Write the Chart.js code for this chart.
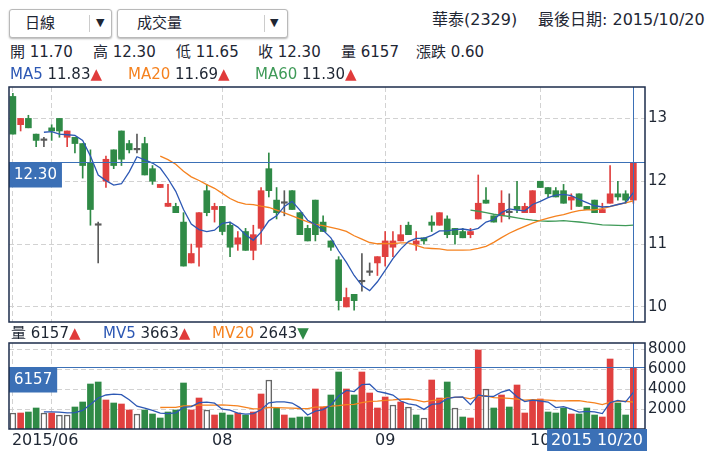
<!DOCTYPE html>
<html>
<head>
<meta charset="utf-8">
<script src="https://cdn.jsdelivr.net/npm/chart.js@4.4.1/dist/chart.umd.min.js"></script>
<style>
  body { margin: 0; background: #fff; font-family: "DejaVu Sans", "Noto Sans CJK TC", sans-serif; color: #1e2633; }
  #wrap { position: relative; width: 712px; height: 457px; overflow: hidden; }
  canvas { position: absolute; left: 0; }
  .t { position: absolute; white-space: nowrap; font-size: 15px; line-height: 18px; }
  .sel { position: absolute; top: 9px; height: 27px; border: 1px solid #b9b9b9; border-radius: 3px;
         box-shadow: 0 1px 2px rgba(0,0,0,.3); background: #fff; }
  .sel span { position: absolute; top: 4px; font-size: 15px; line-height: 18px; }
  .sel i { position: absolute; top: 5px; width: 1px; height: 17px; background: #ccc; }
  .sel b { position: absolute; top: 6px; font-size: 11px; line-height: 14px; font-weight: normal; }
  .up { color: #e03b3b; }
  .dn { color: #2f8a46; }
</style>
</head>
<body>
<div id="wrap">
  <canvas id="priceChart" width="712" height="246" style="top:80px"></canvas>
  <canvas id="volumeChart" width="712" height="121" style="top:336px"></canvas>

  <div class="sel" style="left:9px;width:101px"><span style="left:15px">日線</span><i style="left:79px"></i><b style="left:86px">▼</b></div>
  <div class="sel" style="left:117px;width:169px"><span style="left:19px">成交量</span><i style="left:146px"></i><b style="left:152px">▼</b></div>
  <div class="t" style="left:432px;top:11px;font-size:16px">華泰(2329)</div>
  <div class="t" style="left:538px;top:11px;font-size:16px">最後日期: 2015/10/20</div>

  <div class="t" style="left:10px;top:43px">開 11.70</div>
  <div class="t" style="left:93px;top:43px">高 12.30</div>
  <div class="t" style="left:176px;top:43px">低 11.65</div>
  <div class="t" style="left:258px;top:43px">收 12.30</div>
  <div class="t" style="left:341px;top:43px">量 6157</div>
  <div class="t" style="left:416px;top:43px">漲跌 0.60</div>

  <div class="t" style="left:10px;top:65px"><span style="color:#2d58b4">MA5</span> 11.83<span class="up">▲</span></div>
  <div class="t" style="left:128px;top:65px"><span style="color:#f5821f">MA20</span> 11.69<span class="up">▲</span></div>
  <div class="t" style="left:255px;top:65px"><span style="color:#3f9a58">MA60</span> 11.30<span class="up">▲</span></div>

  <div class="t" style="left:11px;top:324px">量 6157<span class="up">▲</span></div>
  <div class="t" style="left:103px;top:324px"><span style="color:#2d58b4">MV5</span> 3663<span class="up">▲</span></div>
  <div class="t" style="left:212px;top:324px"><span style="color:#f5821f">MV20</span> 2643<span class="dn">▼</span></div>
</div>
<script>
// trading days shown, per month (2015)
const juneDays = [24, 25, 26, 29, 30];
const julyDays = [1, 2, 3, 6, 7, 8, 9, 13, 14, 15, 16, 17, 20, 21, 22, 23, 24, 27, 28, 29, 30, 31];
const augDays = [3, 4, 5, 6, 7, 10, 11, 12, 13, 14, 17, 18, 19, 20, 21, 24, 25, 26, 27, 28, 31];
const sepDays = [1, 2, 3, 4, 7, 8, 9, 10, 11, 14, 15, 16, 17, 18, 21, 22, 23, 24, 25, 30];
const octDays = [1, 2, 5, 6, 7, 8, 12, 13, 14, 15, 16, 19, 20];
const monthNames = ['06', '07', '08', '09', '10'];
const monthLabels = ['2015/06', '', '08', '09', '10'];

const open = [13.35, 12.90, 13.00, 12.75, 12.65, 12.85, 13.00, 12.70, 12.70, 12.60,
  12.30, 11.30, 12.00, 12.50, 12.80, 12.60, 12.50, 12.60, 12.20, 11.90,
  11.60, 11.60, 11.35, 10.70, 10.95, 11.85, 11.55, 11.60, 11.30, 11.00,
  11.20, 10.90, 11.25, 12.20, 11.70, 11.65, 11.85, 11.50, 11.25, 11.70,
  11.35, 11.05, 10.75, 10.00, 10.20, 10.40, 10.55, 10.70, 10.80, 10.95,
  11.05, 11.30, 11.00, 11.10, 11.35, 11.30, 11.40, 11.25, 11.20, 11.15,
  11.40, 11.70, 11.45, 11.45, 11.50, 11.60, 11.50, 11.50, 12.00, 11.90,
  11.85, 11.85, 11.70, 11.80, 11.60, 11.70, 11.50, 11.65, 11.80, 11.80,
  11.70];
const high = [13.40, 13.00, 13.05, 12.75, 12.70, 12.90, 13.00, 12.80, 12.70, 12.60,
  12.50, 11.35, 12.40, 12.50, 12.80, 12.65, 12.75, 12.70, 12.25, 11.95,
  11.95, 11.65, 11.50, 11.00, 11.50, 11.95, 11.65, 11.60, 11.35, 11.20,
  11.25, 11.30, 11.90, 12.45, 11.90, 11.85, 11.85, 11.50, 11.30, 11.70,
  11.45, 11.05, 10.80, 10.30, 10.20, 10.85, 10.70, 10.80, 11.20, 11.20,
  11.30, 11.35, 11.20, 11.10, 11.45, 11.50, 11.45, 11.25, 11.25, 11.25,
  12.10, 11.90, 11.45, 11.85, 11.80, 12.00, 11.65, 11.85, 12.00, 11.90,
  11.90, 11.95, 11.80, 11.80, 11.60, 11.70, 11.65, 12.25, 12.00, 11.85,
  12.30];
const low = [12.75, 12.80, 12.85, 12.55, 12.55, 12.65, 12.70, 12.55, 12.45, 12.05,
  11.30, 10.70, 11.90, 12.20, 12.25, 12.45, 12.45, 12.10, 11.95, 11.90,
  11.60, 11.50, 10.65, 10.70, 10.65, 11.45, 11.35, 11.15, 10.80, 10.90,
  10.90, 10.75, 11.00, 11.75, 11.40, 11.45, 11.55, 11.15, 11.05, 11.05,
  11.20, 10.90, 9.95, 10.00, 9.95, 10.25, 10.50, 10.50, 10.65, 10.80,
  11.05, 11.15, 10.90, 11.00, 11.20, 11.30, 11.10, 11.00, 11.10, 11.10,
  11.40, 11.65, 11.35, 11.35, 11.40, 11.50, 11.50, 11.50, 11.90, 11.75,
  11.75, 11.65, 11.55, 11.60, 11.55, 11.50, 11.50, 11.65, 11.70, 11.65,
  11.65];
const close = [12.75, 13.00, 12.85, 12.65, 12.65, 12.80, 12.80, 12.80, 12.60, 12.25,
  11.55, 11.30, 12.35, 12.25, 12.35, 12.50, 12.50, 12.10, 12.00, 11.95,
  11.65, 11.50, 10.65, 10.85, 11.50, 11.50, 11.60, 11.20, 10.95, 11.10,
  10.90, 11.15, 11.85, 11.85, 11.50, 11.65, 11.55, 11.15, 11.05, 11.15,
  11.20, 10.95, 10.10, 10.15, 10.10, 10.40, 10.55, 10.80, 11.05, 11.05,
  11.15, 11.15, 11.05, 11.05, 11.30, 11.50, 11.15, 11.15, 11.10, 11.20,
  11.65, 11.65, 11.35, 11.65, 11.50, 11.55, 11.60, 11.85, 11.90, 11.80,
  11.75, 11.65, 11.75, 11.60, 11.55, 11.50, 11.55, 11.80, 11.75, 11.70,
  12.30];
const prevClose = 12.75; // close of the day before the first candle
const volume = [1600, 1600, 1700, 2100, 1600, 1600, 1400, 1400, 2200, 2700,
  4500, 4700, 2900, 2600, 2500, 1900, 1500, 1900, 1500, 1100,
  1700, 1900, 4600, 1900, 3100, 1900, 1400, 1600, 1400, 1600,
  1400, 1700, 3500, 4900, 2100, 1400, 1100, 1200, 1200, 4000,
  2200, 3400, 5700, 4000, 3400, 5700, 3600, 2100, 3200, 2400,
  2700, 2200, 1400, 1100, 4900, 3100, 4700, 2100, 1200, 1100,
  7900, 4000, 2100, 3400, 2200, 4400, 1600, 2800, 3000, 1700,
  1600, 2100, 1500, 1500, 2100, 1400, 1200, 7000, 2600, 1400,
  6157];
const priceTicks = [10, 11, 12, 13];
const volumeTicks = [2000, 4000, 6000, 8000];

const RED = '#e0403f', GREEN = '#2f8a46', GRAY = '#5a5a5a';
const BLUE = '#2d58b4', ORANGE = '#f5821f', MA60C = '#3f9a58';
const GRID = '#d2d2d2', FRAME = '#1d2d4b', TAG = '#3b70b6', TEXT = '#1e2633';

const dates = [];
const monthStarts = [];
[juneDays, julyDays, augDays, sepDays, octDays].forEach((days, m) => {
  monthStarts.push(dates.length);
  days.forEach(d => dates.push('2015/' + monthNames[m] + '/' + String(d).padStart(2, '0')));
});
const labels = dates.concat(['']); // one empty slot after the last day
const lastIndex = close.length - 1;

function movingAverage(values, n) {
  return values.map((v, i) => {
    if (i < n - 1) return null;
    let s = 0;
    for (let k = i - n + 1; k <= i; k++) s += values[k];
    return s / n;
  });
}

const candleColor = close.map((c, i) => c > open[i] ? RED : c < open[i] ? GREEN : GRAY);
const volumeDir = close.map((c, i) => {
  const p = i === 0 ? prevClose : close[i - 1];
  return c > p ? 1 : c < p ? -1 : 0;
});

Chart.defaults.font.family = '"DejaVu Sans", sans-serif';
Chart.defaults.color = TEXT;

const framePlugin = {
  id: 'frame',
  afterDraw(chart) {
    const { ctx, chartArea: a } = chart;
    ctx.save();
    ctx.strokeStyle = FRAME;
    ctx.lineWidth = 1.5;
    ctx.strokeRect(a.left, a.top, a.right - a.left, a.bottom - a.top);
    ctx.restore();
  }
};

function cursorPlugin(value, text) {
  return {
    id: 'cursor',
    afterDatasetsDraw(chart) {
      const { ctx, chartArea: a, scales: { x, y } } = chart;
      const py = Math.round(y.getPixelForValue(value)) + 0.5;
      const px = Math.round(x.getPixelForValue(lastIndex)) + 0.5;
      ctx.save();
      ctx.strokeStyle = TAG;
      ctx.lineWidth = 1;
      ctx.beginPath();
      ctx.moveTo(a.left, py); ctx.lineTo(a.right, py);
      ctx.moveTo(px, a.top); ctx.lineTo(px, a.bottom);
      ctx.stroke();
      ctx.font = '15px "DejaVu Sans"';
      const w = ctx.measureText(text).width + 10;
      ctx.fillStyle = TAG;
      ctx.fillRect(a.left, py, w, 25);
      ctx.fillStyle = '#fff';
      ctx.textBaseline = 'middle';
      ctx.fillText(text, a.left + 5, py + 13);
      ctx.restore();
    }
  };
}

const dateLabelPlugin = {
  id: 'dateLabels',
  afterDraw(chart) {
    const { ctx, chartArea: a, scales: { x } } = chart;
    ctx.save();
    ctx.font = '16px "DejaVu Sans"';
    ctx.textBaseline = 'middle';
    ctx.fillStyle = TEXT;
    monthStarts.forEach((idx, k) => {
      if (!monthLabels[k]) return;
      const px = x.getPixelForValue(idx);
      ctx.textAlign = k === 0 ? 'left' : 'center';
      ctx.fillText(monthLabels[k], k === 0 ? px - 1 : px, a.bottom + 12);
    });
    const d = dates[lastIndex].split('/');
    const t = d[0] + ' ' + d[1] + '/' + d[2];
    const w = ctx.measureText(t).width + 8;
    const bx = Math.min(x.getPixelForValue(lastIndex) - w / 2, a.right + 2 - w);
    ctx.fillStyle = TAG;
    ctx.fillRect(bx, a.bottom, w, 22);
    ctx.fillStyle = '#fff';
    ctx.textAlign = 'left';
    ctx.fillText(t, bx + 4, a.bottom + 11.5);
    ctx.restore();
  }
};

function xScale(height) {
  return {
    type: 'category',
    offset: true,
    grid: { offset: false, color: GRID, drawTicks: false },
    border: { display: false, dash: [5, 3] },
    ticks: { display: false },
    afterBuildTicks: s => { s.ticks = monthStarts.map(v => ({ value: v })); },
    afterFit: s => { s.height = height; s.paddingLeft = 0; s.paddingRight = 0; }
  };
}

function yScale(min, max, ticks) {
  return {
    position: 'right',
    min: min,
    max: max,
    grid: { color: GRID, drawTicks: false },
    border: { display: false, dash: [5, 3] },
    ticks: { font: { size: 15 }, padding: 3, color: TEXT, callback: v => String(v) },
    afterBuildTicks: s => { s.ticks = ticks.map(v => ({ value: v })); },
    afterFit: s => { s.width = 67; s.paddingTop = 0; s.paddingBottom = 0; }
  };
}

function maLine(data, color) {
  return { type: 'line', data: data, borderColor: color, borderWidth: 1.3,
           pointRadius: 0, tension: 0, order: 0, spanGaps: false };
}

new Chart(document.getElementById('priceChart'), {
  type: 'bar',
  data: {
    labels: labels,
    datasets: [
      maLine(movingAverage(close, 5), BLUE),
      maLine(movingAverage(close, 20), ORANGE),
      maLine(movingAverage(close, 60), MA60C),
      {
        data: open.map((o, i) => [o, close[i]]),
        backgroundColor: candleColor,
        barThickness: 6, minBarLength: 1.5, grouped: false, order: 2
      },
      {
        data: low.map((l, i) => [l, high[i]]),
        backgroundColor: candleColor,
        barThickness: 1, grouped: false, order: 3
      }
    ]
  },
  options: {
    responsive: false,
    animation: false,
    layout: { padding: { left: 9, top: 7, right: 0, bottom: 4 } },
    plugins: { legend: { display: false }, tooltip: { enabled: false } },
    scales: { x: xScale(0), y: yScale(9.76, 13.5, priceTicks) }
  },
  plugins: [cursorPlugin(close[lastIndex], close[lastIndex].toFixed(2)), framePlugin]
});

new Chart(document.getElementById('volumeChart'), {
  type: 'bar',
  data: {
    labels: labels,
    datasets: [
      maLine(movingAverage(volume, 5), BLUE),
      maLine(movingAverage(volume, 20), ORANGE),
      {
        data: volume,
        backgroundColor: volumeDir.map(d => d > 0 ? RED : d < 0 ? GREEN : '#fff'),
        borderColor: volumeDir.map(d => d === 0 ? '#666' : 'rgba(0,0,0,0)'),
        borderWidth: volumeDir.map(d => d === 0 ? 1.5 : 0),
        barThickness: 6, grouped: false, order: 2
      }
    ]
  },
  options: {
    responsive: false,
    animation: false,
    layout: { padding: { left: 9, top: 7, right: 0, bottom: 0 } },
    plugins: { legend: { display: false }, tooltip: { enabled: false } },
    scales: { x: xScale(28), y: yScale(0, 8600, volumeTicks) }
  },
  plugins: [cursorPlugin(volume[lastIndex], String(volume[lastIndex])), framePlugin, dateLabelPlugin]
});
</script>
</body>
</html>
